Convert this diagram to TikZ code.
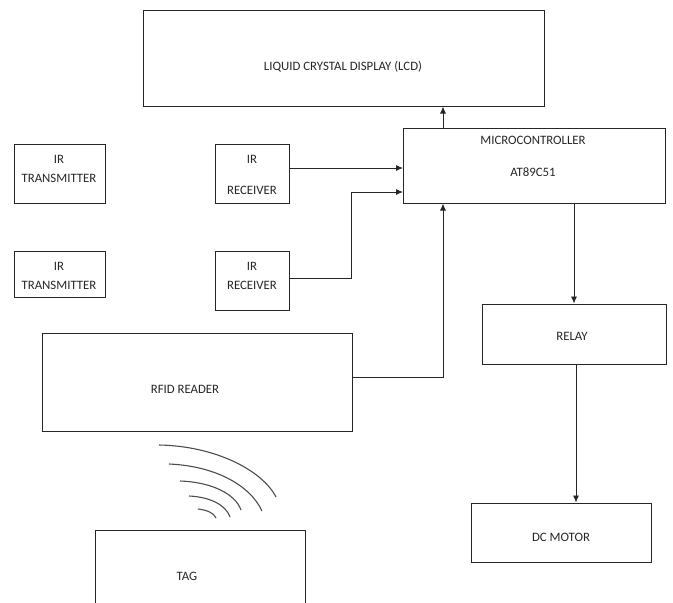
\documentclass[tikz,border=0pt]{standalone}
\usepackage{fontspec}
\setmainfont{Carlito}
\usetikzlibrary{arrows.meta}
\newcommand*{\lblsize}{\fontsize{12.8}{15}\selectfont}

\begin{document}
\begin{tikzpicture}[x=1pt, y=-1pt, font=\lblsize,
    blk/.style={draw=black!85, line width=1pt, rectangle, inner sep=0pt},
    lbl/.style={text=black!85, inner sep=0pt},
    wire/.style={draw=black!85, line width=0.9pt},
    arr/.style={wire, -{Latex[length=7pt, width=6pt]}},
    wave/.style={draw=black!70, line width=1.1pt}]
    \useasboundingbox (0,0) rectangle (673,603);
    \clip (0,0) rectangle (673,603);
        % boxes
        \node [blk, minimum width=401, minimum height=96] (lcd)   at (343.5, 58.0) {};
        \node [blk, minimum width=262, minimum height=75] (mcu)   at (534.0,165.5) {};
        \node [blk, minimum width=91,  minimum height=59] (txa)   at ( 59.5,173.5) {};
        \node [blk, minimum width=74,  minimum height=59] (rxa)   at (252.0,173.5) {};
        \node [blk, minimum width=91,  minimum height=46] (txb)   at ( 59.5,274.0) {};
        \node [blk, minimum width=74,  minimum height=59] (rxb)   at (252.0,280.5) {};
        \node [blk, minimum width=310, minimum height=98] (rfid)  at (197.0,382.0) {};
        \node [blk, minimum width=184, minimum height=60] (relay) at (574.0,334.0) {};
        \node [blk, minimum width=180, minimum height=59] (motor) at (561.0,532.5) {};
        \node [blk, minimum width=210, minimum height=90] (tag)   at (200.0,575.0) {};
        % labels
        \node [lbl] (lcdtxt)   at (343, 67) {LIQUID CRYSTAL DISPLAY (LCD)};
        \node [lbl] (mcutxt)   at (533,140) {MICROCONTROLLER};
        \node [lbl] (mcupart)  at (533,172) {AT89C51};
        \node [lbl] (txair)    at ( 59,159) {IR};
        \node [lbl] (txaname)  at ( 59,178) {TRANSMITTER};
        \node [lbl] (rxair)    at (252,159) {IR};
        \node [lbl] (rxaname)  at (252,190) {RECEIVER};
        \node [lbl] (txbir)    at ( 59,266) {IR};
        \node [lbl] (txbname)  at ( 59,285) {TRANSMITTER};
        \node [lbl] (rxbir)    at (252,266) {IR};
        \node [lbl] (rxbname)  at (252,285) {RECEIVER};
        \node [lbl] (rfidtxt)  at (185,389) {RFID READER};
        \node [lbl] (relaytxt) at (572,336) {RELAY};
        \node [lbl] (motortxt) at (561,537) {DC MOTOR};
        \node [lbl] (tagtxt)   at (187,576) {TAG};
        % tap points
        \coordinate (tapx) at (443,0);
        \coordinate (ina)  at (403,168);
        \coordinate (inb)  at (403,192);
        \coordinate (bend) at (351,0);
        % connectors
        \draw [arr] (mcu.north -| tapx) -- (lcd.south -| tapx);
        \draw [arr] (rxa.east |- ina) -- (ina);
        \draw [arr] (rxb.east |- 0,278) -| (bend |- inb) -- (inb);
        \draw [arr] (rfid.east |- 0,377) -| (mcu.south -| tapx);
        \draw [arr] (mcu.south -| relay.north) -- (relay.north);
        \draw [arr] (relay.south -| 576,0) -- (motor.north -| 576,0);
        % radio waves
        \draw [wave] (159,445) .. controls (215,446) and (262,470) .. (276,497);
        \draw [wave] (169,464) .. controls (215,466) and (250,485) .. (262,511);
        \draw [wave] (180,481) .. controls (210,482) and (235,493) .. (241,510);
        \draw [wave] (189,496) .. controls (210,497) and (226,505) .. (230,517);
        \draw [wave] (198,509) .. controls (207,510) and (214,513) .. (216,518);
    \end{tikzpicture}
\end{document}
